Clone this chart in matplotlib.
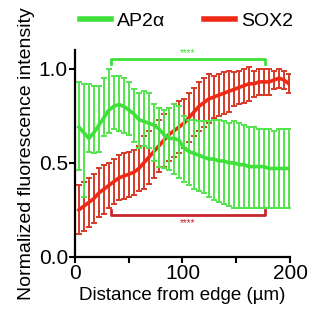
import numpy as np
import matplotlib
matplotlib.use('Agg')
import matplotlib.pyplot as plt
from matplotlib.lines import Line2D

plt.rcParams['font.family'] = ['Liberation Sans', 'DejaVu Sans']

# distance from edge (um)
distance = [3.7, 8.3, 13.0, 17.6, 22.3, 26.9, 31.6, 36.2, 40.9, 45.5,
            50.2, 54.8, 59.5, 64.1, 68.8, 73.4, 78.1, 82.7, 87.4, 92.0,
            96.7, 101.3, 106.0, 110.6, 115.3, 119.9, 124.6, 129.2, 133.9, 138.5,
            143.2, 147.8, 152.5, 157.1, 161.8, 166.4, 171.1, 175.7, 180.4, 185.0,
            189.7, 194.3, 199.0]

ap2_mean = [0.69, 0.66, 0.63, 0.66, 0.70, 0.74, 0.78, 0.80, 0.81, 0.80,
            0.78, 0.76, 0.73, 0.72, 0.71, 0.70, 0.68, 0.65, 0.63, 0.63,
            0.62, 0.58, 0.56, 0.55, 0.54, 0.53, 0.52, 0.52, 0.51, 0.51,
            0.50, 0.50, 0.49, 0.49, 0.48, 0.48, 0.48, 0.48, 0.47, 0.47,
            0.47, 0.47, 0.47]
ap2_top = [0.93, 0.92, 0.92, 0.91, 0.91, 0.95, 1.00, 0.96, 0.96, 0.95,
           0.93, 0.89, 0.87, 0.88, 0.87, 0.81, 0.79, 0.78, 0.79, 0.81,
           0.80, 0.75, 0.73, 0.73, 0.72, 0.72, 0.72, 0.73, 0.73, 0.72,
           0.71, 0.72, 0.71, 0.70, 0.69, 0.69, 0.68, 0.68, 0.68, 0.67,
           0.68, 0.68, 0.68]
ap2_bottom = [0.46, 0.32, 0.56, 0.55, 0.56, 0.64, 0.66, 0.68, 0.67, 0.66,
              0.65, 0.61, 0.58, 0.59, 0.58, 0.51, 0.48, 0.47, 0.46, 0.44,
              0.42, 0.40, 0.38, 0.36, 0.35, 0.34, 0.32, 0.30, 0.29, 0.28,
              0.27, 0.26, 0.26, 0.26, 0.26, 0.26, 0.26, 0.26, 0.26, 0.26,
              0.26, 0.26, 0.26]

sox2_mean = [0.25, 0.27, 0.29, 0.31, 0.34, 0.36, 0.38, 0.40, 0.42, 0.43,
             0.44, 0.45, 0.47, 0.50, 0.53, 0.56, 0.59, 0.62, 0.65, 0.67,
             0.69, 0.71, 0.74, 0.77, 0.80, 0.82, 0.84, 0.85, 0.86, 0.87,
             0.88, 0.89, 0.90, 0.91, 0.92, 0.92, 0.93, 0.93, 0.93, 0.94,
             0.95, 0.94, 0.92]
sox2_sd = [0.13, 0.13, 0.13, 0.13, 0.13, 0.13, 0.12, 0.12, 0.12, 0.12,
           0.12, 0.12, 0.12, 0.14, 0.14, 0.14, 0.14, 0.14, 0.14, 0.14,
           0.14, 0.13, 0.13, 0.13, 0.13, 0.13, 0.13, 0.11, 0.11, 0.11,
           0.11, 0.09, 0.09, 0.09, 0.09, 0.07, 0.07, 0.07, 0.07, 0.05,
           0.05, 0.05, 0.05]

green = '#3ee03a'
green_bar = '#52e44c'
red = '#ee2a16'
red_bar = '#d63a28'
bracket_red = '#c8262e'

fig = plt.figure(figsize=(3.16, 3.24), dpi=100)
ax = fig.add_axes([0.237, 0.207, 0.681, 0.639])

x = np.array(distance)
ap2 = np.array(ap2_mean)
ap2_err = [ap2 - np.array(ap2_bottom), np.array(ap2_top) - ap2]

ax.errorbar(x, sox2_mean, yerr=sox2_sd, fmt='none', ecolor=red_bar,
            elinewidth=1.4, capsize=2.5, capthick=1.4, zorder=2)
ax.plot(x, sox2_mean, color=red, lw=2.6, zorder=3)
ax.errorbar(x, ap2, yerr=ap2_err, fmt='none', ecolor=green_bar,
            elinewidth=1.4, capsize=2.5, capthick=1.4, zorder=4)
ax.plot(x, ap2, color=green, lw=2.6, zorder=5)

# significance brackets
ax.plot([33.5, 33.5, 177, 177], [1.025, 1.05, 1.05, 1.025], color=green,
        lw=2, clip_on=False, zorder=6)
ax.text(105, 1.055, '****', color=green, fontsize=7, ha='center', va='bottom')
ax.plot([33.5, 33.5, 177, 177], [0.25, 0.225, 0.225, 0.25], color=bracket_red,
        lw=2, zorder=6)
ax.text(105, 0.205, '****', color=bracket_red, fontsize=7, ha='center', va='top')

ax.set_xlim(0, 200)
ax.set_ylim(0, 1.1)
ax.set_xticks([0, 50, 100, 150, 200])
ax.set_xticklabels(['0', '', '100', '', '200'])
ax.set_yticks([0.0, 0.5, 1.0])
ax.set_yticklabels(['0.0', '0.5', '1.0'])
ax.tick_params(labelsize=15, width=1.5, length=4, pad=1)
for side in ['top', 'right']:
    ax.spines[side].set_visible(False)
for side in ['left', 'bottom']:
    ax.spines[side].set_linewidth(1.6)

ax.set_xlabel('Distance from edge (µm)', fontsize=13.5, labelpad=3)
ax.set_ylabel('Normalized fluorescence intensity', fontsize=14, labelpad=3)

handles = [Line2D([], [], color=green, lw=4), Line2D([], [], color=red, lw=4)]
fig.legend(handles, ['AP2α', 'SOX2'], loc='upper center', ncol=2,
           bbox_to_anchor=(0.59, 1.015), frameon=False, fontsize=14,
           handlelength=1.6, handletextpad=0.3, columnspacing=2.0)

fig.savefig('out.png', dpi=100)
